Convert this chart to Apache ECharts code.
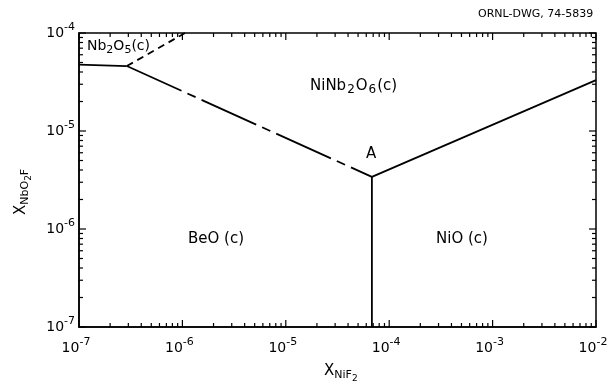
<!DOCTYPE html>
<html><head><meta charset="utf-8">
<script src="https://cdn.jsdelivr.net/npm/echarts@6/dist/echarts.min.js"></script>
<style>html,body{margin:0;padding:0;background:#fff}#c{width:608px;height:384px}</style>
</head><body><div id="c"></div>
<script>
// ---- axis structure ----
const xTickExponents = [-7, -6, -5, -4, -3, -2];
const yTickExponents = [-7, -6, -5, -4];
const minorMultipliers = [2, 3, 4, 5, 6, 7, 8, 9];

// ---- phase boundaries (x = X_NiF2, y = X_NbO2F) ----
const pointA = [6.8e-5, 3.4e-6];
const kneePoint = [2.9e-7, 4.6e-5];
const nb2o5BeoBoundary = [[1e-7, 4.75e-5], kneePoint];       // solid
const nb2o5NiNbBoundary = [kneePoint, [1.06e-6, 1e-4]];      // dashed
const beoNiNbBoundary = [kneePoint, pointA];                  // long-short dashed
const nioNiNbBoundary = [pointA, [1e-2, 3.3e-5]];             // solid
const beoNioBoundary = [pointA, [6.8e-5, 1e-7]];              // solid

const X_MIN = Math.pow(10, xTickExponents[0]), X_MAX = Math.pow(10, xTickExponents[xTickExponents.length - 1]);
const Y_MIN = Math.pow(10, yTickExponents[0]), Y_MAX = Math.pow(10, yTickExponents[yTickExponents.length - 1]);
const FONT = 'DejaVu Sans';

function ticks(exps, axisFlag) {
  const out = [];
  exps.forEach((e, i) => {
    const d = Math.pow(10, e);
    out.push(axisFlag === 0 ? [d, Y_MIN, 1, 0] : [X_MIN, d, 1, 1]);
    if (i < exps.length - 1) minorMultipliers.forEach(m => {
      out.push(axisFlag === 0 ? [m * d, Y_MIN, 0, 0] : [X_MIN, m * d, 0, 1]);
    });
  });
  return out;
}
const tickData = ticks(xTickExponents, 0).concat(ticks(yTickExponents, 1));

function renderTick(params, api) {
  const major = api.value(2), flag = api.value(3);
  const len = major ? 7 : 4;
  const st = { stroke: '#000', lineWidth: 1.2 };
  if (flag === 0) {
    const x = api.value(0);
    const p1 = api.coord([x, Y_MIN]), p2 = api.coord([x, Y_MAX]);
    return { type: 'group', children: [
      { type: 'line', shape: { x1: p1[0], y1: p1[1], x2: p1[0], y2: p1[1] - len }, style: st },
      { type: 'line', shape: { x1: p2[0], y1: p2[1], x2: p2[0], y2: p2[1] + len }, style: st }
    ]};
  } else {
    const y = api.value(1);
    const p1 = api.coord([X_MIN, y]), p2 = api.coord([X_MAX, y]);
    return { type: 'group', children: [
      { type: 'line', shape: { x1: p1[0], y1: p1[1], x2: p1[0] + len, y2: p1[1] }, style: st },
      { type: 'line', shape: { x1: p2[0], y1: p2[1], x2: p2[0] - len, y2: p2[1] }, style: st }
    ]};
  }
}

const powLabel = v => '{b|10}{s|' + Math.round(Math.log10(v)) + '}';
const labelRich = {
  b: { fontSize: 14, fontFamily: FONT, color: '#000' },
  s: { fontSize: 11, fontFamily: FONT, color: '#000', padding: [0, 0, 12, 0] }
};

const lineSeries = (data, type) => ({
  type: 'line', data: data, symbol: 'none', silent: true, z: 3,
  lineStyle: { color: '#000', width: 1.8, type: type || 'solid' }
});

const sub = { fontSize: 11, fontFamily: FONT, padding: [8, 0, 0, 0] };
const main = { fontSize: 15, fontFamily: FONT };

const chart = echarts.init(document.getElementById('c'), null, { renderer: 'canvas' });
chart.setOption({
  backgroundColor: '#fff',
  animation: false,
  grid: { left: 79, right: 12, top: 33, bottom: 57, show: true, borderColor: '#000', borderWidth: 1.5,
          containLabel: false, outerBoundsMode: 'none' },
  xAxis: {
    type: 'log', logBase: 10, min: X_MIN, max: X_MAX,
    axisLine: { show: true, lineStyle: { color: '#000', width: 1.5 } },
    axisTick: { show: false }, splitLine: { show: false },
    axisLabel: { formatter: powLabel, rich: labelRich, margin: 10, padding: [0, 6, 0, 0],
                 showMinLabel: true, showMaxLabel: true, hideOverlap: false }
  },
  yAxis: {
    type: 'log', logBase: 10, min: Y_MIN, max: Y_MAX,
    axisLine: { show: true, lineStyle: { color: '#000', width: 1.5 } },
    axisTick: { show: false }, splitLine: { show: false },
    axisLabel: { formatter: powLabel, rich: labelRich, margin: 4, showMinLabel: true, showMaxLabel: true, hideOverlap: false }
  },
  series: [
    { type: 'custom', data: tickData, renderItem: renderTick, clip: false, silent: true, z: 2,
      encode: { x: 0, y: 1 } },
    lineSeries(nb2o5BeoBoundary),
    lineSeries(nb2o5NiNbBoundary, [7, 5]),
    lineSeries(beoNiNbBoundary, [60, 6.5, 9, 6.5]),
    lineSeries(nioNiNbBoundary),
    lineSeries(beoNioBoundary)
  ],
  graphic: [
    { type: 'text', x: 478, y: 9, style: { text: 'ORNL-DWG, 74-5839', font: '11px "DejaVu Sans"', fill: '#000' } },
    { type: 'text', x: 87, y: 37, style: {
        text: '{m|Nb}{u|2}{m|O}{u|5}{m|(c)}', fill: '#000',
        rich: { m: { fontSize: 14, fontFamily: FONT }, u: sub } } },
    { type: 'text', x: 310, y: 76, style: {
        text: '{m|NiNb}{u|2}{m|O}{u|6}{m|(c)}', fill: '#000',
        rich: { m: { fontSize: 15, fontFamily: FONT }, u: { fontSize: 12, fontFamily: FONT, padding: [8, 1, 0, 1] } } } },
    { type: 'text', x: 366, y: 147, style: { text: 'A', font: '15px "DejaVu Sans"', fill: '#000' } },
    { type: 'text', x: 188, y: 232, style: { text: 'BeO (c)', font: '15px "DejaVu Sans"', fill: '#000' } },
    { type: 'text', x: 436, y: 232, style: { text: 'NiO (c)', font: '15px "DejaVu Sans"', fill: '#000' } },
    { type: 'text', x: 324, y: 360, style: {
        text: '{m|X}{u|NiF}{v|2}', fill: '#000',
        rich: { m: main, u: { fontSize: 11, fontFamily: FONT, padding: [8, 0, 0, 0] }, v: { fontSize: 9, fontFamily: FONT, padding: [14, 0, 0, 0] } } } },
    { type: 'text', x: 10, y: 215, rotation: Math.PI / 2, style: {
        text: '{m|X}{u|NbO}{v|2}{u|F}', fill: '#000',
        rich: { m: main, u: { fontSize: 11, fontFamily: FONT, padding: [8, 0, 0, 0] }, v: { fontSize: 9, fontFamily: FONT, padding: [14, 0, 0, 0] } } } }
  ]
});
</script></body></html>
